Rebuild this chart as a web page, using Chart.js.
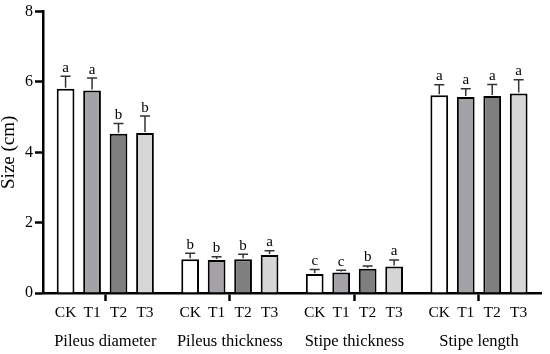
<!DOCTYPE html>
<html>
<head>
<meta charset="utf-8">
<script src="https://cdn.jsdelivr.net/npm/chart.js@4"></script>
<style>
  body { margin: 0; background: #fff; }
  #wrap { width: 550px; height: 354px; }
</style>
</head>
<body>
<div id="wrap"><canvas id="myChart" width="550" height="354"></canvas></div>
<script>
// groups on the x axis
var categories = ["Pileus diameter", "Pileus thickness", "Stipe thickness", "Stipe length"];
var treatments = ["CK", "T1", "T2", "T3"];

// means (cm)
var ckValues = [5.81, 0.96, 0.54, 5.62];
var t1Values = [5.76, 0.94, 0.58, 5.57];
var t2Values = [4.53, 0.96, 0.69, 5.60];
var t3Values = [4.55, 1.08, 0.75, 5.67];

// standard deviations (upper whisker only)
var ckErr = [0.35, 0.17, 0.13, 0.30];
var t1Err = [0.35, 0.09, 0.07, 0.24];
var t2Err = [0.29, 0.14, 0.08, 0.33];
var t3Err = [0.48, 0.12, 0.19, 0.39];

// significance letters
var ckLetters = ["a", "b", "c", "a"];
var t1Letters = ["a", "b", "c", "a"];
var t2Letters = ["b", "b", "b", "a"];
var t3Letters = ["b", "a", "a", "a"];

var yTicks = [0, 2, 4, 6, 8];

var serif = "'Liberation Serif', 'Times New Roman', serif";
var errs = [ckErr, t1Err, t2Err, t3Err];
var letters = [ckLetters, t1Letters, t2Letters, t3Letters];

// error bars, letters and per-bar labels
var extras = {
  id: 'extras',
  afterDatasetsDraw: function(chart) {
    var c = chart.ctx;
    var ys = chart.scales.y;
    c.save();
    chart.data.datasets.forEach(function(ds, i) {
      var meta = chart.getDatasetMeta(i);
      meta.data.forEach(function(bar, j) {
        var top = ys.getPixelForValue(ds.data[j] + errs[i][j]);
        c.strokeStyle = '#333';
        c.lineWidth = 1.5;
        c.beginPath();
        c.moveTo(bar.x, bar.y - 1);
        c.lineTo(bar.x, top);
        c.moveTo(bar.x - 5, top);
        c.lineTo(bar.x + 5, top);
        c.stroke();

        c.fillStyle = '#000';
        c.font = '15px ' + serif;
        c.textAlign = 'center';
        c.textBaseline = 'bottom';
        c.fillText(letters[i][j], bar.x, top - 1);

        c.font = '15.5px ' + serif;
        c.textBaseline = 'middle';
        c.fillText(treatments[i], bar.x, chart.chartArea.bottom + 20);
      });
    });
    c.restore();
  }
};

var ctx = document.getElementById('myChart').getContext('2d');
var chart = new Chart(ctx, {
  type: 'bar',
  data: {
    labels: categories,
    datasets: [
      { label: "CK", data: ckValues, backgroundColor: '#ffffff' },
      { label: "T1", data: t1Values, backgroundColor: '#a4a2a7' },
      { label: "T2", data: t2Values, backgroundColor: '#7f7f7f' },
      { label: "T3", data: t3Values, backgroundColor: '#d6d6d6' }
    ]
  },
  options: {
    responsive: false,
    animation: false,
    layout: { padding: { top: 11, right: 3, left: 0, bottom: 0 } },
    datasets: {
      bar: {
        borderColor: '#000',
        borderWidth: 2,
        borderSkipped: 'bottom',
        categoryPercentage: 0.85,
        barPercentage: 0.67
      }
    },
    plugins: {
      legend: { display: false },
      tooltip: { enabled: false }
    },
    scales: {
      x: {
        offset: true,
        grid: {
          offset: false,
          drawOnChartArea: false,
          drawTicks: true,
          tickLength: 8,
          tickWidth: 2.5,
          tickColor: '#000'
        },
        border: { display: true, color: '#000', width: 2.5 },
        ticks: {
          color: '#000',
          padding: 31,
          font: { family: serif, size: 16.5 }
        },
        afterFit: function(s) { s.height = 61; }
      },
      y: {
        min: 0,
        max: 8,
        afterBuildTicks: function(s) { s.ticks = yTicks.map(function(v) { return { value: v }; }); },
        grid: {
          drawOnChartArea: false,
          tickLength: 8,
          tickWidth: 2.5,
          tickColor: '#000'
        },
        border: { display: true, color: '#000', width: 2.5 },
        ticks: {
          color: '#000',
          padding: 2,
          font: { family: serif, size: 16 }
        },
        title: {
          display: true,
          text: 'Size (cm)',
          color: '#000',
          padding: { top: 0, bottom: 0 },
          font: { family: serif, size: 19, lineHeight: 1 }
        },
        afterFit: function(s) { s.width = 43; }
      }
    }
  },
  plugins: [extras]
});
</script>
</body>
</html>
